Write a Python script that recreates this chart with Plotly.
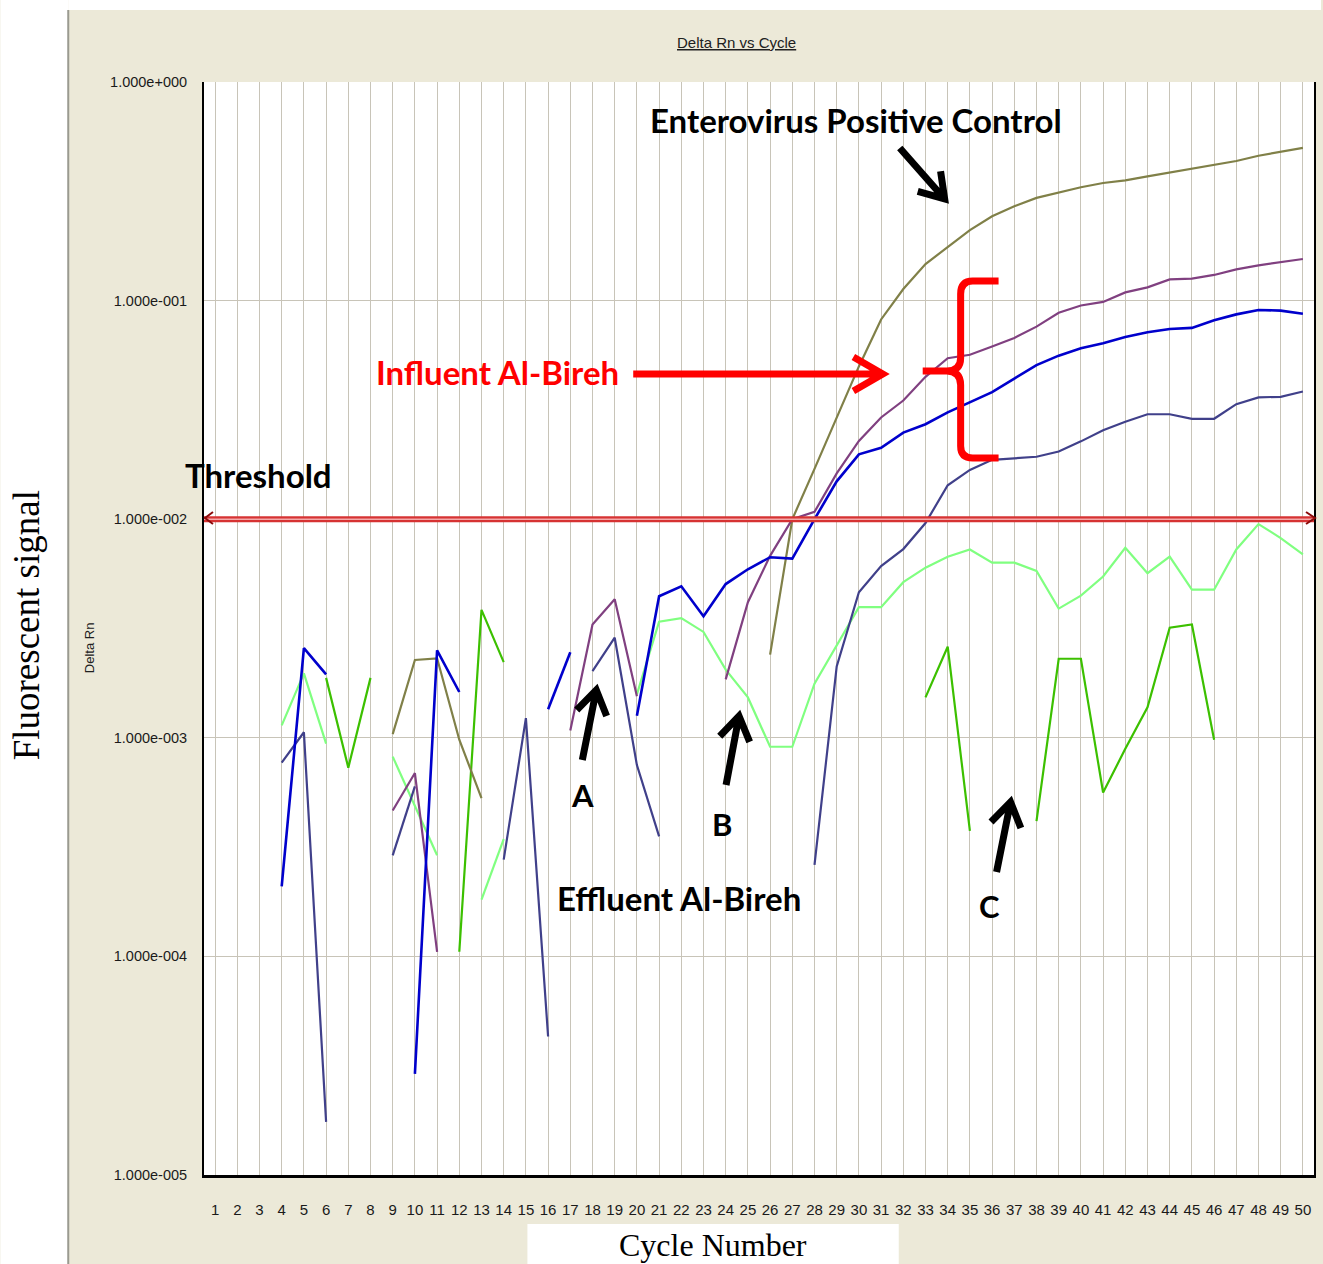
import math
import plotly.graph_objects as go

N = None
CYCLES = list(range(1, 51))
X_TICK_TEXT = [str(c) for c in CYCLES]
Y_TICK_VALUES = [1e-5, 1e-4, 1e-3, 1e-2, 1e-1, 1e0]
Y_TICK_TEXT = ["1.000e-005", "1.000e-004", "1.000e-003", "1.000e-002", "1.000e-001", "1.000e+000"]
THRESHOLD = 1e-2

# Enterovirus positive control (olive)
POSITIVE_CONTROL = [N, N, N, N, N, N, N, N, 1.04e-3, 2.27e-3,
                    2.31e-3, 9.8e-4, 5.3e-4, N, N, N, N, N, N, N,
                    N, N, N, N, N, 2.4e-3, 1.0e-2, 1.7e-2, 2.9e-2, 5.0e-2,
                    8.2e-2, 0.113, 0.147, 0.176, 0.21, 0.243, 0.27, 0.295, 0.312, 0.33,
                    0.345, 0.355, 0.37, 0.385, 0.40, 0.415, 0.435, 0.46, 0.48, 0.50]
# Influent Al-Bireh replicates
INFLUENT_PURPLE = [N, N, N, N, N, N, N, N, 4.65e-4, 6.9e-4,
                   1.05e-4, N, N, N, N, N, 1.08e-3, 3.3e-3, 4.3e-3, 1.55e-3,
                   N, N, N, 1.85e-3, 4.17e-3, 6.8e-3, 1.0e-2, 1.08e-2, 1.62e-2, 2.28e-2,
                   2.92e-2, 3.49e-2, 4.48e-2, 5.45e-2, 5.65e-2, 6.17e-2, 6.75e-2, 7.6e-2, 8.8e-2, 9.5e-2,
                   9.86e-2, 0.109, 0.115, 0.125, 0.126, 0.131, 0.139, 0.145, 0.150, 0.155]
INFLUENT_BLUE = [N, N, N, 2.09e-4, 2.57e-3, 1.95e-3, N, N, N, 2.9e-5,
                 2.51e-3, 1.62e-3, N, N, N, 1.35e-3, 2.46e-3, N, N, 1.26e-3,
                 4.44e-3, 4.93e-3, 3.6e-3, 5.05e-3, 5.9e-3, 6.7e-3, 6.6e-3, 1.0e-2, 1.49e-2, 1.98e-2,
                 2.12e-2, 2.49e-2, 2.72e-2, 3.08e-2, 3.43e-2, 3.81e-2, 4.40e-2, 5.07e-2, 5.6e-2, 6.05e-2,
                 6.38e-2, 6.81e-2, 7.16e-2, 7.42e-2, 7.5e-2, 8.13e-2, 8.65e-2, 9.06e-2, 9.0e-2, 8.71e-2]
INFLUENT_SLATE = [N, N, N, 7.7e-4, 1.06e-3, 1.75e-5, N, N, 2.9e-4, 6.0e-4,
                  N, N, N, 2.77e-4, 1.23e-3, 4.3e-5, N, 2.02e-3, 2.87e-3, 7.5e-4,
                  3.54e-4, N, N, N, N, N, N, 2.62e-4, 2.12e-3, 4.63e-3,
                  6.1e-3, 7.3e-3, 9.6e-3, 1.43e-2, 1.68e-2, 1.87e-2, 1.9e-2, 1.93e-2, 2.04e-2, 2.27e-2,
                  2.55e-2, 2.79e-2, 3.02e-2, 3.02e-2, 2.88e-2, 2.88e-2, 3.36e-2, 3.61e-2, 3.63e-2, 3.84e-2]
# Effluent Al-Bireh replicates
EFFLUENT_LIGHTGREEN = [N, N, N, 1.14e-3, 1.97e-3, 9.4e-4, N, N, 8.2e-4, 4.9e-4,
                       2.9e-4, N, 1.82e-4, 3.44e-4, N, N, N, N, N, 1.58e-3,
                       3.4e-3, 3.53e-3, 3.05e-3, 2.05e-3, 1.53e-3, 9.1e-4, 9.1e-4, 1.77e-3, 2.66e-3, 3.96e-3,
                       3.96e-3, 5.15e-3, 6.0e-3, 6.74e-3, 7.27e-3, 6.33e-3, 6.33e-3, 5.8e-3, 3.9e-3, 4.47e-3,
                       5.47e-3, 7.4e-3, 5.66e-3, 6.74e-3, 4.76e-3, 4.76e-3, 7.27e-3, 9.5e-3, 8.2e-3, 6.9e-3]
EFFLUENT_GREEN = [N, N, N, N, N, 1.88e-3, 7.3e-4, 1.88e-3, N, N,
                  N, 1.05e-4, 3.85e-3, 2.22e-3, N, N, N, N, N, N,
                  N, N, N, N, N, N, N, N, N, N,
                  N, N, 1.53e-3, 2.61e-3, 3.75e-4, N, N, 4.16e-4, 2.30e-3, 2.30e-3,
                  5.62e-4, 8.9e-4, 1.38e-3, 3.19e-3, 3.3e-3, 9.8e-4, N, N, N, N]

SERIES = [
    ("Effluent 2", EFFLUENT_GREEN, "#3CC000", 2.2),
    ("Effluent 1", EFFLUENT_LIGHTGREEN, "#80FF80", 2.2),
    ("Positive control", POSITIVE_CONTROL, "#808048", 2.2),
    ("Influent 3", INFLUENT_SLATE, "#40408A", 2.2),
    ("Influent 1", INFLUENT_PURPLE, "#804080", 2.2),
    ("Influent 2", INFLUENT_BLUE, "#0000CC", 2.6),
]
for _, vals, _, _ in SERIES:
    assert len(vals) == len(CYCLES)

W, H = 1323, 1264
L, R, T, B = 204, 1316, 82, 1175
NARROW = "Liberation Sans Narrow, Arial Narrow, Liberation Sans, Arial"
BOLD = "Lato, Open Sans, sans-serif"
SERIF = "Liberation Serif, Times New Roman, serif"
GRID = "#C8C4B8"
BEIGE = "#ECE9D8"


def px(x):
    return (x - L) / (R - L)


def py(y):
    return (B - y) / (B - T)


def path(points_list):
    segs = []
    for pts in points_list:
        segs.append("M " + " L ".join(f"{px(x):.5f},{py(y):.5f}" for x, y in pts))
    return " ".join(segs)


def arrow(x0, y0, x1, y1, wing=28, ang=33):
    dx, dy = x1 - x0, y1 - y0
    d = math.hypot(dx, dy)
    ux, uy = dx / d, dy / d
    pts = []
    for s in (1, -1):
        a = math.radians(ang) * s
        rx = ux * math.cos(a) - uy * math.sin(a)
        ry = ux * math.sin(a) + uy * math.cos(a)
        pts.append((x1 - wing * rx, y1 - wing * ry))
    return path([[(x0, y0), (x1, y1)], [pts[0], (x1, y1), pts[1]]])


fig = go.Figure()
for name, vals, color, width in SERIES:
    fig.add_trace(go.Scatter(x=CYCLES, y=vals, mode="lines", name=name,
                             line=dict(color=color, width=width),
                             connectgaps=False, hoverinfo="skip"))

# threshold line
fig.add_trace(go.Scatter(x=[0.5, 50.5], y=[THRESHOLD, THRESHOLD], mode="lines",
                         line=dict(color="#D63333", width=6), hoverinfo="skip", cliponaxis=False))
fig.add_trace(go.Scatter(x=[0.5, 50.5], y=[THRESHOLD, THRESHOLD], mode="lines",
                         line=dict(color="#F3AAAA", width=1.5), hoverinfo="skip", cliponaxis=False))

shapes = []
# page background pieces
shapes.append(dict(type="rect", xref="paper", yref="paper", x0=px(0), x1=px(68), y0=py(H), y1=py(0),
                   fillcolor="white", line=dict(width=0), layer="below"))
shapes.append(dict(type="rect", xref="paper", yref="paper", x0=px(68), x1=px(W), y0=py(10), y1=py(0),
                   fillcolor="white", line=dict(width=0), layer="below"))
shapes.append(dict(type="rect", xref="paper", yref="paper", x0=px(528), x1=px(900), y0=py(H), y1=py(1224),
                   fillcolor="white", line=dict(width=0), layer="below"))
shapes.append(dict(type="line", xref="paper", yref="paper", x0=px(68), x1=px(68), y0=py(H), y1=py(10),
                   line=dict(color="#9A9A90", width=2), layer="below"))
# threshold arrowheads
ty = 518
shapes.append(dict(type="path", xref="paper", yref="paper",
                   path=path([[(L + 9, ty - 6), (L + 1, ty), (L + 9, ty + 6)]]),
                   line=dict(color="#8B0A0A", width=2)))
shapes.append(dict(type="path", xref="paper", yref="paper",
                   path=path([[(R - 8, ty - 6), (R + 1, ty), (R - 8, ty + 6)]]),
                   line=dict(color="#8B0A0A", width=2)))
# black arrows
for a in [(901, 148, 946, 199), (583, 760, 597, 690), (727, 785, 740, 716), (998, 872, 1012, 802)]:
    shapes.append(dict(type="path", xref="paper", yref="paper", path=arrow(*a),
                       line=dict(color="black", width=7)))
# red arrow
shapes.append(dict(type="path", xref="paper", yref="paper", path=arrow(634, 374, 884, 374, wing=34, ang=30),
                   line=dict(color="#FF0000", width=7)))
# red brace
brace = (f"M {px(1000)},{py(281)} L {px(974)},{py(281)} Q {px(962)},{py(281)} {px(962)},{py(294)} "
         f"L {px(962)},{py(358)} Q {px(962)},{py(371)} {px(948)},{py(371)} L {px(924)},{py(371)} "
         f"M {px(948)},{py(371)} Q {px(962)},{py(371)} {px(962)},{py(385)} "
         f"L {px(962)},{py(446)} Q {px(962)},{py(458)} {px(974)},{py(458)} L {px(1000)},{py(458)}")
shapes.append(dict(type="path", xref="paper", yref="paper", path=brace,
                   line=dict(color="#FF0000", width=7)))


def txt(text, x, y, size, color="black", family=BOLD, angle=0, bold=True):
    t = f"<b>{text}</b>" if bold else text
    return dict(text=t, x=px(x), y=py(y), xref="paper", yref="paper", showarrow=False,
                xanchor="center", yanchor="middle", textangle=angle,
                font=dict(family=family, size=size, color=color))


annotations = [
    txt("<u>Delta Rn vs Cycle</u>", 737, 43, 15, "#202020", NARROW, bold=False),
    txt("Enterovirus Positive Control", 857, 120, 33),
    txt("Influent Al-Bireh", 498, 372, 33, "#FF0000"),
    txt("Threshold", 259, 475, 33),
    txt("Effluent Al-Bireh", 680, 898, 33),
    txt("A", 583, 795, 31),
    txt("B", 723, 824, 31),
    txt("C", 991, 906, 31),
    txt("Fluorescent signal", 26, 625, 37, "black", SERIF, angle=-90, bold=False),
    txt("Delta Rn", 89, 648, 13, "#202020", "Liberation Sans, Arial", angle=-90, bold=False),
    txt("Cycle Number", 714, 1245, 32, "black", SERIF, bold=False),
]

fig.update_layout(
    width=W, height=H,
    margin=dict(l=L, r=W - R, t=T, b=H - B, pad=0),
    paper_bgcolor=BEIGE, plot_bgcolor="white",
    showlegend=False, shapes=shapes, annotations=annotations,
)
fig.update_xaxes(range=[0.5, 50.5], tickmode="array", tickvals=CYCLES, ticktext=X_TICK_TEXT,
                 showgrid=True, gridcolor=GRID, gridwidth=1, zeroline=False,
                 showline=True, linecolor="black", linewidth=3, ticks="",
                 tickfont=dict(family=NARROW, size=15, color="#1A1A1A"), ticklabelstandoff=19)
fig.update_yaxes(type="log", range=[-5, 0], tickmode="array", tickvals=Y_TICK_VALUES, ticktext=Y_TICK_TEXT,
                 showgrid=True, gridcolor=GRID, gridwidth=1, zeroline=False,
                 showline=True, linecolor="black", linewidth=2, mirror=True, ticks="",
                 tickfont=dict(family=NARROW, size=14.5, color="#1A1A1A"), ticklabelstandoff=12)

fig.write_html("out.html", config={"displayModeBar": False},
               post_script="document.body.style.margin='0px';document.body.style.overflow='hidden';")
